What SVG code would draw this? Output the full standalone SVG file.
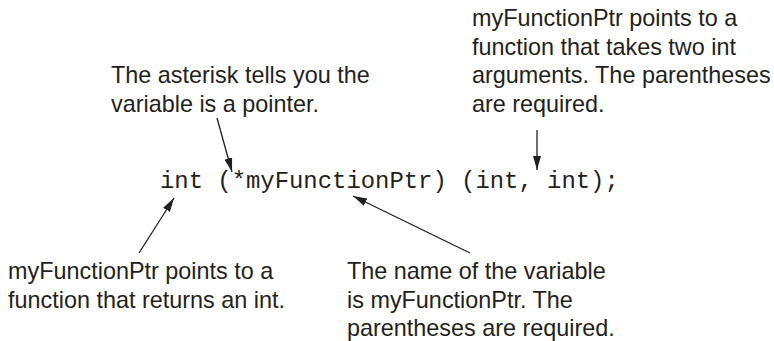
<svg xmlns="http://www.w3.org/2000/svg" width="774" height="341" viewBox="0 0 774 341">
<defs>
<style>
.t{font-family:"Liberation Sans",Arial,sans-serif;font-size:23.4px;fill:#231f20}
.c{font-family:"Liberation Mono","Courier New",monospace;font-size:23.9px;fill:#231f20}
.a{stroke:#231f20;stroke-width:1.3;fill:none;marker-end:url(#ah)}
</style>
<marker id="ah" viewBox="0 0 14 8" refX="14" refY="4" markerWidth="14" markerHeight="8" markerUnits="userSpaceOnUse" orient="auto">
<path d="M0,0 L14,4 L0,8 Z" fill="#231f20"/>
</marker>
</defs>
<rect width="774" height="341" fill="#ffffff"/>
<g id="code"><text class="c" x="160" y="188">int (*myFunctionPtr) (int, int);</text></g>
<g id="note-asterisk"><text class="t"><tspan x="111" y="83">The asterisk tells you the</tspan><tspan x="111" y="111.5">variable is a pointer.</tspan></text></g>
<g id="note-args"><text class="t"><tspan x="472" y="26">myFunctionPtr points to a</tspan><tspan x="472" y="54.5">function that takes two int</tspan><tspan x="472" y="83">arguments. The parentheses</tspan><tspan x="472" y="111.5">are required.</tspan></text></g>
<g id="note-return"><text class="t"><tspan x="8" y="279">myFunctionPtr points to a</tspan><tspan x="8" y="307.5">function that returns an int.</tspan></text></g>
<g id="note-name"><text class="t"><tspan x="347" y="279">The name of the variable</tspan><tspan x="347" y="307.5">is myFunctionPtr. The</tspan><tspan x="347" y="336">parentheses are required.</tspan></text></g>
<g id="connectors">
<line class="a" x1="217" y1="118" x2="232" y2="172"/>
<line class="a" x1="537" y1="130" x2="537" y2="170"/>
<line class="a" x1="139" y1="253" x2="174" y2="198"/>
<line class="a" x1="470" y1="253" x2="353" y2="196"/>
</g>
</svg>
